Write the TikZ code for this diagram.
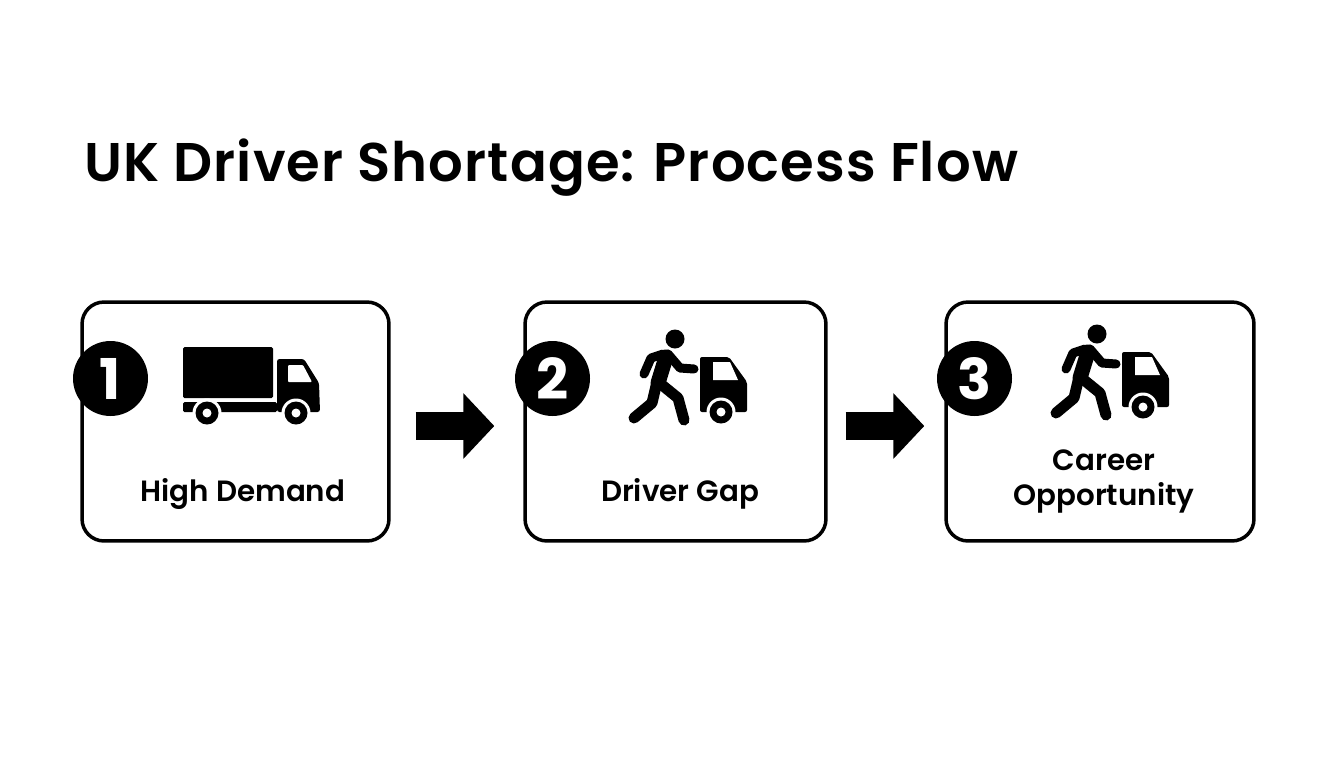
\documentclass[tikz,border=0pt]{standalone}
\usepackage{fontspec}
\setmainfont{Poppins}[BoldFont={Poppins SemiBold}]
\newfontfamily\badgefont{Poppins}[UprightFont={* Bold}]
\usetikzlibrary{arrows.meta}
\tikzset{
	cardbox/.style={draw=black,line width=0.07cm,rounded corners=0.44cm,fill=white,inner sep=0pt},
	badge/.style={circle,fill=black,text=white,minimum size=1.5cm,inner sep=0pt,font=\badgefont\fontsize{32}{32}\selectfont},
	cardlabel/.style={align=center,font=\bfseries\fontsize{16.7}{20}\selectfont},
	blockarrow/.style={-{Triangle[length=0.62cm,width=1.28cm]},line width=0.56cm,line cap=butt},
	limb/.style={line width=0.2cm,line cap=round,line join=round},
	pics/wheel/.style={code={
		\fill[white] (0,0) circle (14.5);
		\fill[black] (0,0) circle (11.5);
		\fill[white] (0,0) circle (4.5);
	}},
	pics/truckicon/.style={code={
		\fill[rounded corners=0.03cm] (183,347) rectangle (273,398);
		\fill[rounded corners=0.03cm] (183,402) rectangle (277,412);
		\fill[rounded corners=0.05cm] (277,412) -- (277,359) -- (304,359) -- (319,383) -- (320,412) -- cycle;
		\fill[white,rounded corners=0.02cm] (288,365) -- (303,365) -- (312,382) -- (288,382) -- cycle;
		\pic at (207,413) {wheel};
		\pic at (296,413) {wheel};
	}},
	pics/runnervan/.style={code={
		\fill (675,339) circle (9.5);
		\draw[limb,line width=0.3cm] (666,357) -- (658,383);
		\draw[limb,line width=0.18cm] (663,354) -- (651,358) -- (644,374);
		\draw[limb,line width=0.18cm] (668,354) -- (680,368) -- (694,369);
		\draw[limb,line width=0.22cm] (656,386) -- (652,403) -- (634,418);
		\draw[limb,line width=0.22cm] (662,385) -- (678,398) -- (684,420);
		\fill[rounded corners=0.04cm] (700,412) -- (700,357) -- (729,357) -- (747,382) -- (747,412) -- cycle;
		\fill[white] (713,362) -- (730,362) -- (738,380) -- (713,380) -- cycle;
		\pic at (721,412) {wheel};
	}}
}
\begin{document}
\begin{tikzpicture}[x=0.02cm,y=-0.02cm,line cap=round,line join=round]
	\useasboundingbox (0,0) rectangle (1344,768);
	\node[anchor=base west,inner sep=0pt,font=\bfseries\fontsize{31}{36}\selectfont\addfontfeature{LetterSpace=2.0}] (title) at (84,181) {UK Driver Shortage: Process Flow};

	\node[cardbox,minimum width=6.14cm,minimum height=4.78cm] (boxa) at (235.5,421.5) {};
	\node[cardbox,minimum width=6.02cm,minimum height=4.78cm] (boxb) at (675.5,421.5) {};
	\node[cardbox,minimum width=6.16cm,minimum height=4.78cm] (boxc) at (1100,421.5) {};

	\node[badge] (numa) at (110.5,378.5) {1};
	\node[badge] (numb) at (552.5,378.5) {2};
	\node[badge] (numc) at (974.5,378.5) {3};

	\pic {truckicon};
	\pic {runnervan};
	\pic[shift={(422,-5)}] {runnervan};

	\node[cardlabel] (labela) at (243,494) {High Demand};
	\node[cardlabel] (labelb) at (680,494) {Driver Gap};
	\node[cardlabel] (labelc) at (1104,481.5) {Career\\Opportunity};

	\draw[blockarrow,shorten <=0.5cm,shorten >=0.58cm] ([yshift=-0.09cm]boxa.east) -- ([yshift=-0.09cm]boxb.west);
	\draw[blockarrow,shorten <=0.36cm,shorten >=0.4cm] ([yshift=-0.09cm]boxb.east) -- ([yshift=-0.09cm]boxc.west);
\end{tikzpicture}
\end{document}
